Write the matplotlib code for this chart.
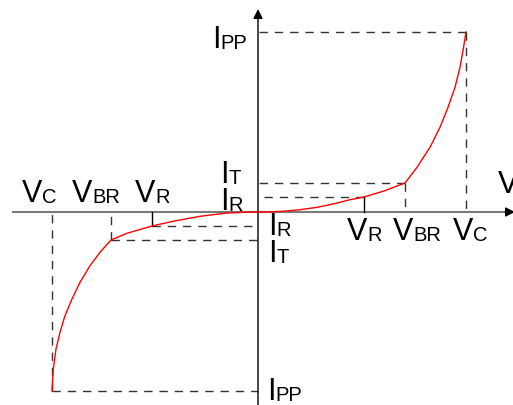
import matplotlib
matplotlib.use("Agg")
import matplotlib.pyplot as plt

plt.rcParams['font.family'] = ['Liberation Sans', 'DejaVu Sans']

# characteristic values (arbitrary units)
v_r, v_br, v_c = 106, 147, 208
i_r, i_t, i_pp = 15, 29, 180
nv_r, nv_br, nv_c = -106, -147, -206
ni_r, ni_t, ni_pp = -14, -28, -179

# red curve
v_pos = [0, 10, 25, 42, 59, 76, 92, 106, 126, 147, 159, 172, 182, 190, 197,
         202, 205, 208]
i_pos = [0, 0.1, 0.7, 2.3, 4.7, 8.2, 12.3, 15, 21, 29, 44.7, 64.7, 84.7,
         104.7, 124.7, 144.7, 161.3, 180]
v_neg = [0, -8, -31, -58, -85, -106, -131, -147, -158, -168, -178, -186,
         -193, -198, -202, -204.7, -206]
i_neg = [0, 0, -1, -4.3, -9.3, -14, -21.3, -28, -40.3, -53.7, -70.3, -87,
         -103.7, -120.3, -137, -157, -179]

fig = plt.figure(figsize=(5.13, 4.06), dpi=100)
ax = fig.add_axes([0, 0, 1, 1])
ax.set_xlim(-258, 255)
ax.set_ylim(-193, 213)
ax.axis('off')

# axes: grey x line, black arrow heads
ax.plot([-245, 249], [0, 0], color='#7a7a7a', lw=1.5, zorder=1)
ax.annotate('', xy=(257, 0), xytext=(247, 0), annotation_clip=False,
            arrowprops=dict(arrowstyle='-|>', color='black', lw=1.0,
                            mutation_scale=14, shrinkA=0, shrinkB=0))
ax.annotate('', xy=(0, 203), xytext=(0, -200), annotation_clip=False,
            arrowprops=dict(arrowstyle='-|>', color='black', lw=1.0,
                            mutation_scale=14, shrinkA=0, shrinkB=0))

dash = dict(color='#333333', lw=1.0, dashes=(6, 5))
solid = dict(color='black', lw=1.0)

# positive side guides
ax.plot([v_c, 0], [i_pp, i_pp], **dash)
ax.plot([v_c, v_c], [i_pp, 0], **dash)
ax.plot([v_br, 0], [i_t, i_t], **dash)
ax.plot([v_br, v_br], [i_t, 0], **dash)
ax.plot([v_r, 0], [i_r, i_r], **dash)
ax.plot([v_r, v_r], [i_r, 0], **solid)

# negative side guides
ax.plot([nv_c, 0], [ni_pp, ni_pp], **dash)
ax.plot([nv_c, nv_c], [ni_pp, 0], **dash)
ax.plot([nv_br, 0], [ni_t, ni_t], **dash)
ax.plot([nv_br, nv_br], [ni_t, 0], **dash)
ax.plot([nv_r, 0], [ni_r, ni_r], **dash)
ax.plot([nv_r, nv_r], [ni_r, 0], **solid)

ax.plot(v_pos, i_pos, color='red', lw=1.0, zorder=3)
ax.plot(v_neg, i_neg, color='red', lw=1.0, zorder=3)


def label(x, y, big, small):
    t = ax.text(x, y, big, fontsize=22, va='baseline', ha='left')
    if small:
        ax.annotate(small, xy=(1, 0), xycoords=t, xytext=(0, 1.4),
                    textcoords='offset points', fontsize=14.5,
                    va='bottom', ha='left')


label(-236, 11, 'V', 'C')
label(-186, 11, 'V', 'BR')
label(-123, 11, 'V', 'R')
label(89, -27, 'V', 'R')
label(135, -27, 'V', 'BR')
label(195, -27, 'V', 'C')
label(-38, 30, 'I', 'T')
label(-38, 3, 'I', 'R')
label(10, -22, 'I', 'R')
label(10, -49, 'I', 'T')
label(-46, 165, 'I', 'PP')
label(9, -187, 'I', 'PP')
label(240, 20, 'V', '')

fig.savefig('out.png', dpi=100)
